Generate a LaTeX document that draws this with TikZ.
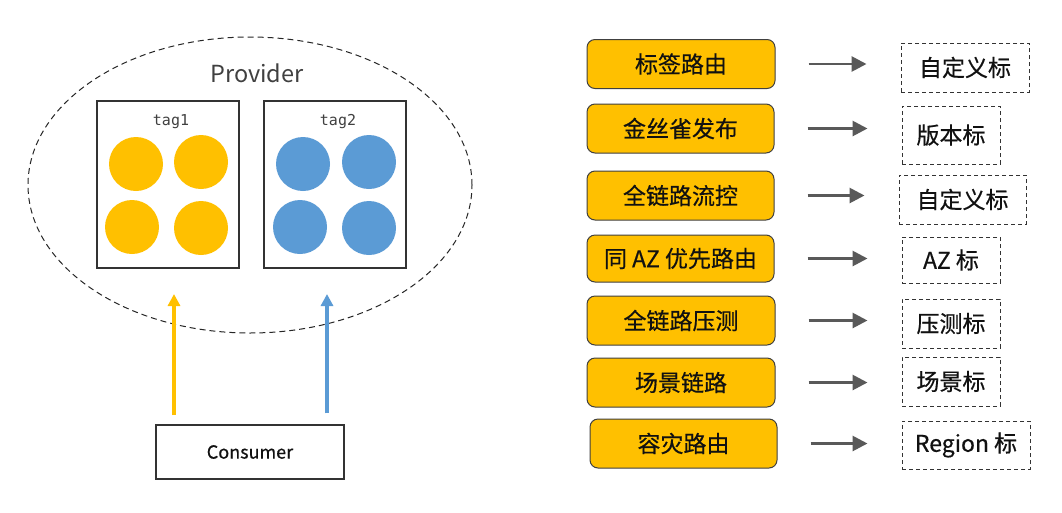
\documentclass[tikz,border=0pt]{standalone}
\usepackage{fontspec}
\setmainfont{Noto Sans CJK SC}
\newfontfamily\boxfont[FakeBold=0.5]{Noto Sans CJK SC}
\newfontfamily\tagfont{DejaVu Sans Mono}
\usetikzlibrary{shapes.geometric,arrows.meta}
\definecolor{gold}{HTML}{FFC000}
\definecolor{cblue}{HTML}{5B9BD5}
\definecolor{agray}{HTML}{595959}
\definecolor{txt}{HTML}{111111}
\tikzset{
  tagbox/.style={draw=black!80, line width=1.2pt, minimum width=142pt, minimum height=167pt, inner sep=0pt},
  gdot/.style={circle, fill=gold, minimum size=54pt, inner sep=0pt},
  bdot/.style={circle, fill=cblue, minimum size=54pt, inner sep=0pt},
  obox/.style={draw=black!75, line width=1pt, fill=gold, rounded corners=8pt, minimum width=188pt, minimum height=49pt, inner sep=0pt, font=\boxfont\fontsize{23}{26}\selectfont, text=txt},
  dbox/.style={draw=black!80, line width=1pt, dash pattern=on 4pt off 3pt, minimum height=48pt, inner sep=0pt, font=\boxfont\fontsize{23}{26}\selectfont, text=txt},
  garrow/.style={draw=agray, line width=2.8pt, -{Triangle[length=15pt,width=15pt]}, shorten <=33pt, shorten >=34pt},
}
\begin{document}
\begin{tikzpicture}[x=1pt,y=-1pt]
\useasboundingbox[fill=white] (0,0) rectangle (1062,512);
% Provider
\node[ellipse, draw=black!85, line width=1pt, dash pattern=on 6pt off 4pt, minimum width=444pt, minimum height=296pt, inner sep=0pt] (prov) at (250,185) {};
\node[text=black!75, font=\fontsize{23.5}{26}\selectfont] (provl) at (257,73) {Provider};
\node[tagbox] (t1) at (168,184.5) {};
\node[tagbox] (t2) at (335,184.5) {};
\node[text=black!75, font=\tagfont\fontsize{15}{17}\selectfont] (t1l) at (171,122) {tag1};
\node[text=black!75, font=\tagfont\fontsize{15}{17}\selectfont] (t2l) at (338,122) {tag2};
\node[gdot] (g1) at (136,164) {};
\node[gdot] (g2) at (201,162) {};
\node[gdot] (g3) at (132,227) {};
\node[gdot] (g4) at (201,228) {};
\node[bdot] (b1) at (303,164) {};
\node[bdot] (b2) at (369,162) {};
\node[bdot] (b3) at (300,227) {};
\node[bdot] (b4) at (369,228) {};
% Consumer
\node[draw=black!80, line width=1.2pt, minimum width=188pt, minimum height=54pt, inner sep=0pt, font=\boxfont\fontsize{18}{20}\selectfont, text=txt] (cons) at (250,452) {Consumer};
\coordinate (ya) at (174,294);
\coordinate (ba) at (327,294);
\draw[draw=gold, line width=3.5pt, -{Triangle[length=12pt,width=12pt]}, shorten <=9pt] (cons.north -| ya) -- (ya);
\draw[draw=cblue, line width=3.5pt, -{Triangle[length=12pt,width=12pt]}, shorten <=11pt] (cons.north -| ba) -- (ba);
% Right side
\node[obox] (o1) at (681,64) {标签路由};
\node[obox, minimum width=187pt] (o2) at (680.5,128.5) {金丝雀发布};
\node[obox, minimum width=187pt] (o3) at (680.5,195.5) {全链路流控};
\node[obox, minimum width=187pt, minimum height=47pt] (o4) at (680.5,258.5) {同 AZ 优先路由};
\node[obox] (o5) at (681,320.5) {全链路压测};
\node[obox] (o6) at (681,382.5) {场景链路};
\node[obox, minimum width=187pt] (o7) at (683.5,443.5) {容灾路由};
\node[dbox, minimum width=128pt, minimum height=49pt] (d1) at (965,67.5) {自定义标};
\node[dbox, minimum width=98pt, minimum height=58pt] (d2) at (951,135) {版本标};
\node[dbox, minimum width=127pt, minimum height=49pt] (d3) at (962.5,199.5) {自定义标};
\node[dbox, minimum width=98pt, minimum height=46pt] (d4) at (951,260) {AZ 标};
\node[dbox, minimum width=98pt, minimum height=49pt] (d5) at (951,323.5) {压测标};
\node[dbox, minimum width=98pt, minimum height=49pt] (d6) at (951,381.5) {场景标};
\node[dbox, minimum width=128pt, minimum height=48pt] (d7) at (966,445) {Region 标};
\foreach \i in {1,...,7} {
  \draw[garrow] (o\i.east) -- (o\i.east -| d\i.west);
}
\end{tikzpicture}
\end{document}
